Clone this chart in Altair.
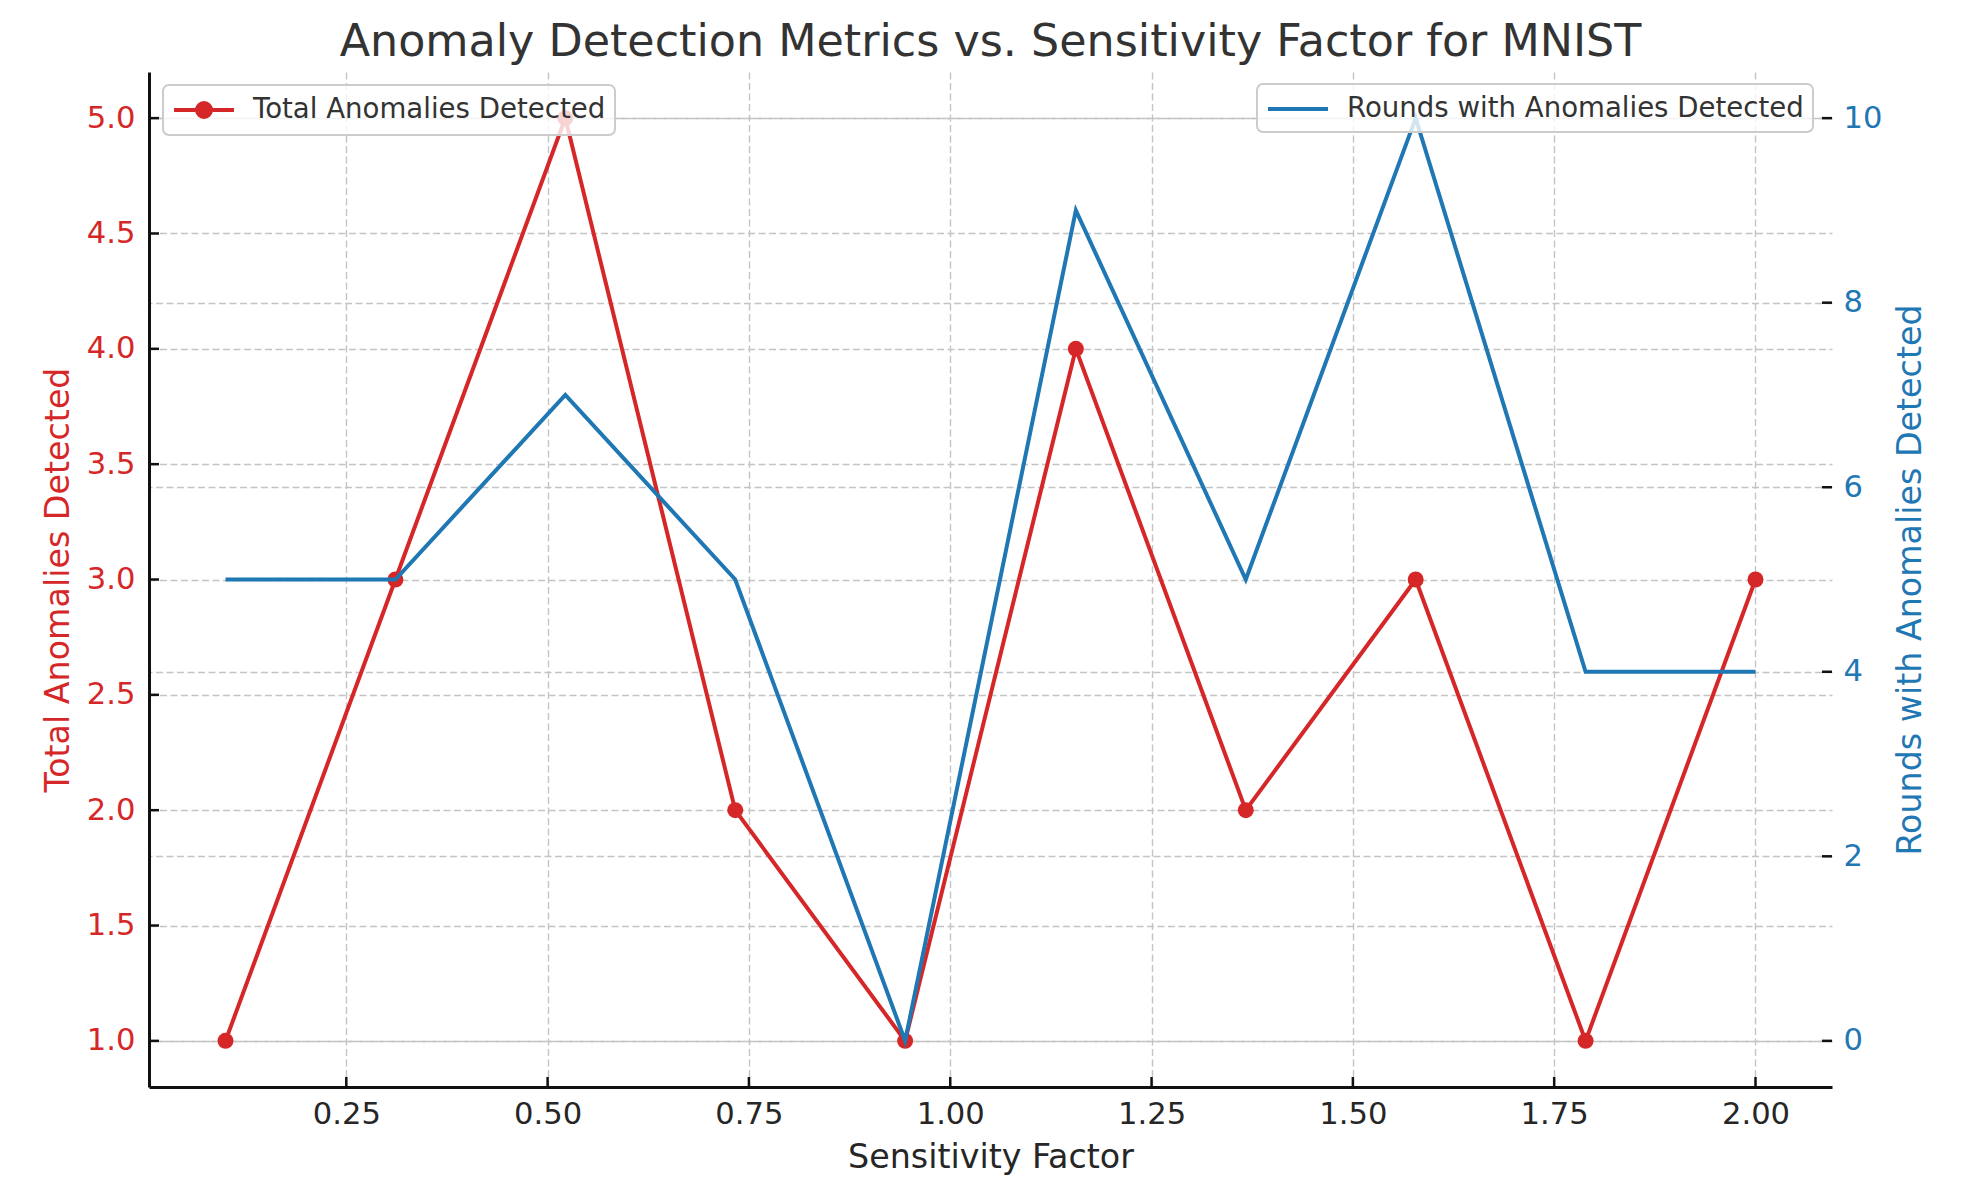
import altair as alt
import pandas as pd

# ---- data ----
sensitivity = [0.1, 0.311, 0.522, 0.733, 0.944, 1.156, 1.367, 1.578, 1.789, 2.0]
total_anomalies = [1, 3, 5, 2, 1, 4, 2, 3, 1, 3]
rounds_detected = [5, 5, 7, 5, 0, 9, 5, 10, 4, 4]
x_tick_values = [0.25, 0.5, 0.75, 1.0, 1.25, 1.5, 1.75, 2.0]
left_tick_values = [1.0, 1.5, 2.0, 2.5, 3.0, 3.5, 4.0, 4.5, 5.0]
right_tick_values = [0, 2, 4, 6, 8, 10]
series_total = "Total Anomalies Detected"
series_rounds = "Rounds with Anomalies Detected"

RED = "#d62728"
BLUE = "#1f77b4"
W, H = 1683, 1015
FONT = "DejaVu Sans"
GRID_COLOR = "#c4c4c4"
GRID_DASH = [7, 3.5]

df = pd.DataFrame({"sens": sensitivity, "total": total_anomalies, "rounds": rounds_detected})
df_xt = pd.DataFrame({"sens": x_tick_values})
df_lt = pd.DataFrame({"total": left_tick_values})
df_rt = pd.DataFrame({"rounds": right_tick_values})

x_enc = alt.X(
    "sens:Q",
    scale=alt.Scale(domain=[0.005, 2.095], nice=False, zero=False),
    axis=alt.Axis(
        values=x_tick_values, format=".2f", title="Sensitivity Factor",
        grid=True, gridColor=GRID_COLOR, gridDash=GRID_DASH, gridWidth=1.4,
        ticks=False, labelPadding=12, labelFontSize=30.6, labelColor="#262626",
        domain=True, domainColor="#111111", domainWidth=3,
        titleFontSize=33.3, titleColor="#262626", titleFontWeight="normal",
        titleX=W / 2, titleY=80, titleBaseline="alphabetic", titleAlign="center",
    ),
)

y_left = alt.Y(
    "total:Q",
    scale=alt.Scale(domain=[0.8, 5.2], nice=False, zero=False),
    axis=alt.Axis(
        values=left_tick_values, format=".1f", title=series_total, orient="left",
        grid=True, gridColor=GRID_COLOR, gridDash=GRID_DASH, gridWidth=1.4,
        ticks=False, labelPadding=14, labelFontSize=30.6, labelColor=RED,
        domain=True, domainColor="#111111", domainWidth=3,
        titleFontSize=33.3, titleColor=RED, titleFontWeight="normal",
        titleAngle=270, titleX=-81, titleY=H / 2, titleBaseline="alphabetic", titleAlign="center",
    ),
)

y_right = alt.Y(
    "rounds:Q",
    scale=alt.Scale(domain=[-0.5, 10.5], nice=False, zero=False),
    axis=alt.Axis(
        values=right_tick_values, format="d", title=series_rounds, orient="right",
        grid=True, gridColor=GRID_COLOR, gridDash=GRID_DASH, gridWidth=1.4,
        ticks=False, labelPadding=11, labelFontSize=30.6, labelColor=BLUE,
        domain=False,
        titleFontSize=33.3, titleColor=BLUE, titleFontWeight="normal",
        titleAngle=270, titleX=88, titleY=H / 2, titleBaseline="alphabetic", titleAlign="center",
    ),
)

LEG_COMMON = dict(
    title=None, orient="none", direction="vertical",
    labelFontSize=27.6, labelColor="#333333", labelFont=FONT, labelLimit=800,
    symbolSize=784, symbolStrokeWidth=4, labelOffset=49,
    padding=9, fillColor="rgba(255,255,255,0.8)", strokeColor="#cccccc",
    cornerRadius=6,
)

red_leg = alt.Legend(
    legendX=14, legendY=13,
    symbolType="M-1,0H3.2857M1.1429,0m-0.5,0a0.5,0.5 0 1,0 1,0a0.5,0.5 0 1,0 -1,0",
    symbolFillColor=RED, symbolStrokeColor=RED,
    **LEG_COMMON,
)
blue_leg = alt.Legend(
    legendX=1108, legendY=12,
    symbolType="M-1,0H3.2857",
    symbolStrokeColor=BLUE,
    **LEG_COMMON,
)

red_line = (
    alt.Chart(df)
    .transform_calculate(series=f"'{series_total}'")
    .mark_line(strokeWidth=4, point=alt.OverlayMarkDef(size=256, filled=True, opacity=1))
    .encode(
        x=x_enc, y=y_left,
        color=alt.Color("series:N", scale=alt.Scale(domain=[series_total], range=[RED]), legend=red_leg),
    )
)
left_ticks = alt.Chart(df_lt).mark_rule(color="#111111", strokeWidth=2.5).encode(
    y=y_left, x=alt.value(0), x2=alt.value(10)
)
x_ticks = alt.Chart(df_xt).mark_rule(color="#111111", strokeWidth=2.5).encode(
    x=x_enc, y=alt.value(H - 10), y2=alt.value(H)
)

blue_line = (
    alt.Chart(df)
    .transform_calculate(series=f"'{series_rounds}'")
    .mark_line(strokeWidth=4)
    .encode(
        x=x_enc, y=y_right,
        color=alt.Color("series:N", scale=alt.Scale(domain=[series_rounds], range=[BLUE]), legend=blue_leg),
    )
)
right_ticks = alt.Chart(df_rt).mark_rule(color="#111111", strokeWidth=2.5).encode(
    y=y_right, x=alt.value(W - 10), x2=alt.value(W)
)

red_layer = alt.layer(red_line, left_ticks, x_ticks)
blue_layer = alt.layer(blue_line, right_ticks)

chart = (
    alt.layer(red_layer, blue_layer)
    .resolve_scale(y="independent", color="independent")
    .properties(
        width=W, height=H,
        autosize=alt.AutoSizeParams(type="none"),
        padding={"left": 141, "top": 64, "right": 140, "bottom": 95},
        title=alt.TitleParams(
            "Anomaly Detection Metrics vs. Sensitivity Factor for MNIST",
            fontSize=44.4, font=FONT, color="#333333", fontWeight="normal",
            anchor="middle", offset=17, baseline="alphabetic", dy=45,
        ),
    )
    .configure(font=FONT, background="white")
    .configure_view(stroke=None)
    .configure_legend(strokeWidth=2)
)

chart.save("out.html", embed_options={"renderer": "svg", "actions": False})
